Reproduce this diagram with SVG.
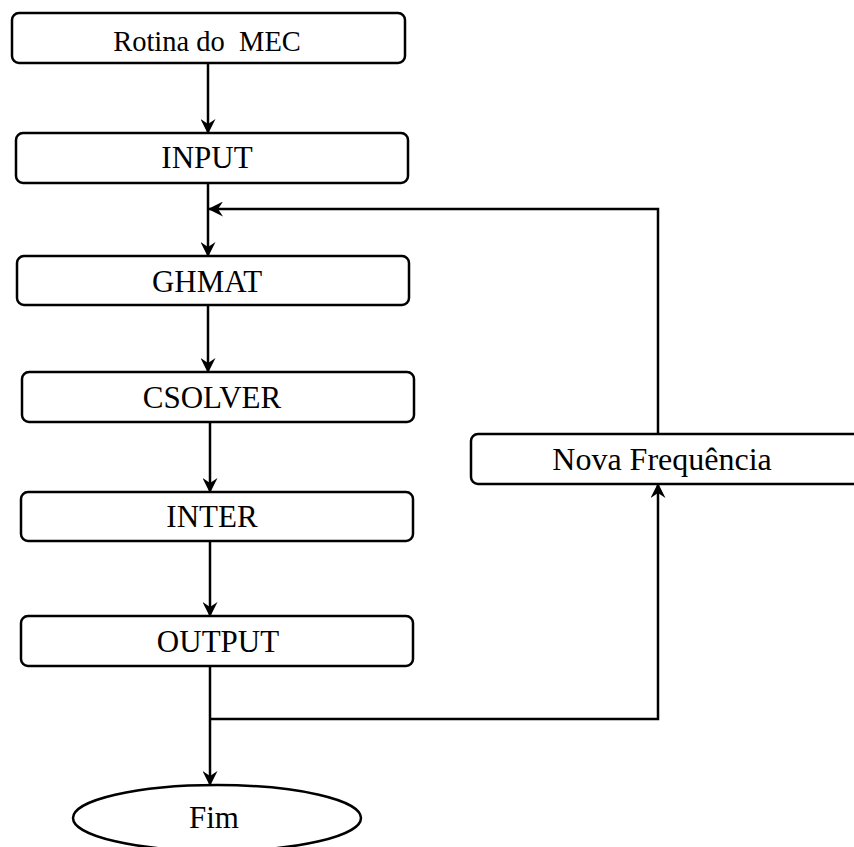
<svg xmlns="http://www.w3.org/2000/svg" width="854" height="847" viewBox="0 0 854 847">
  <style>
    .box { fill: #ffffff; stroke: #000000; stroke-width: 2.5; }
    .lbl { font-family: "Liberation Serif", "Times New Roman", serif; fill: #000000; text-anchor: middle; white-space: pre; }
    .wire { fill: none; stroke: #000000; stroke-width: 2.5; }
    .arrow { marker-end: url(#head); }
  </style>
  <defs>
    <marker id="head" viewBox="0 0 15 15" refX="14" refY="7.5" markerWidth="15" markerHeight="15" markerUnits="userSpaceOnUse" orient="auto">
      <path d="M0,0 L15,7.5 L0,15 L5,7.5 z" fill="#000000"/>
    </marker>
  </defs>

  <rect width="854" height="847" fill="#ffffff"/>

  <!-- connectors -->
  <g id="connectors">
    <path class="wire arrow" d="M208,63 L208,133"/>
    <path class="wire arrow" d="M208,183 L208,256"/>
    <path class="wire arrow" d="M658,434 L658,209 L209,209"/>
    <path class="wire arrow" d="M208,305 L208,372"/>
    <path class="wire arrow" d="M210,422 L210,492"/>
    <path class="wire arrow" d="M210,541 L210,616"/>
    <path class="wire arrow" d="M210,666 L210,785"/>
    <path class="wire arrow" d="M210,719 L658,719 L658,484"/>
  </g>

  <!-- process steps -->
  <g id="rotina">
    <rect class="box" x="12" y="13" width="393" height="50" rx="7"/>
    <text class="lbl" x="207" y="51" font-size="28.5" xml:space="preserve">Rotina do  MEC</text>
  </g>
  <g id="input">
    <rect class="box" x="16" y="133" width="392" height="50" rx="7"/>
    <text class="lbl" x="207" y="168" font-size="31">INPUT</text>
  </g>
  <g id="ghmat">
    <rect class="box" x="17" y="256" width="392" height="49" rx="7"/>
    <text class="lbl" x="207" y="292" font-size="31">GHMAT</text>
  </g>
  <g id="csolver">
    <rect class="box" x="22" y="372" width="392" height="50" rx="7"/>
    <text class="lbl" x="212" y="408" font-size="31">CSOLVER</text>
  </g>
  <g id="inter">
    <rect class="box" x="21" y="492" width="392" height="49" rx="7"/>
    <text class="lbl" x="212" y="527" font-size="31">INTER</text>
  </g>
  <g id="output">
    <rect class="box" x="21" y="616" width="392" height="50" rx="7"/>
    <text class="lbl" x="218" y="652" font-size="31">OUTPUT</text>
  </g>
  <g id="nova-frequencia">
    <rect class="box" x="471" y="434" width="400" height="50" rx="7"/>
    <text class="lbl" x="662" y="470" font-size="32">Nova Frequência</text>
  </g>
  <g id="fim">
    <ellipse class="box" cx="217" cy="818" rx="144" ry="33"/>
    <text class="lbl" x="214" y="828" font-size="31">Fim</text>
  </g>
</svg>
